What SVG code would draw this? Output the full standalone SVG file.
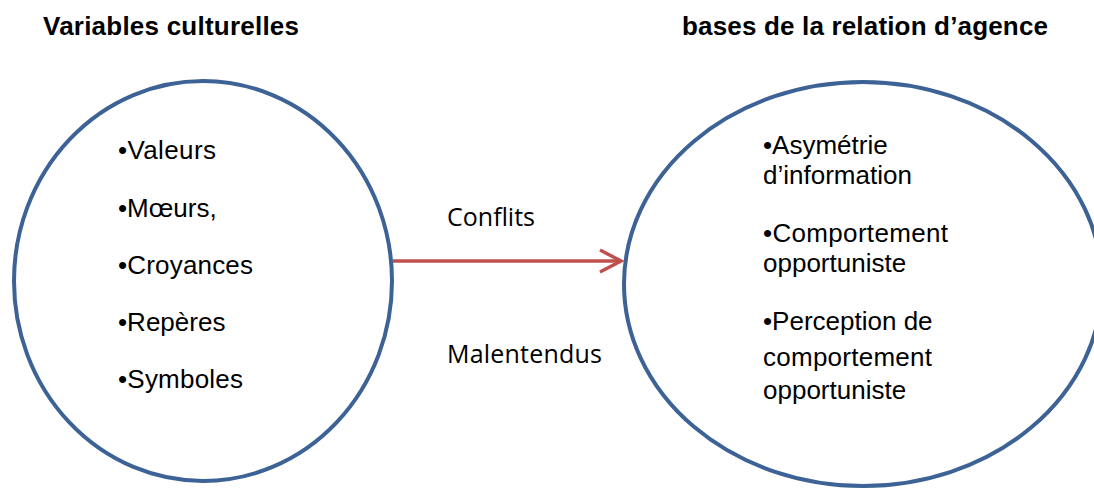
<svg xmlns="http://www.w3.org/2000/svg" width="1094" height="488" viewBox="0 0 1094 488">
<style>
.node{fill:#fff;stroke:#3C6296;stroke-width:4}
.t{font-family:"Liberation Sans",Arial,sans-serif;font-size:26px;fill:#000}
.h{font-family:"Liberation Sans",Arial,sans-serif;font-size:26px;font-weight:bold;fill:#000}
.m{font-family:"Open Sans","Noto Sans",sans-serif;font-size:25px;fill:#000}
.c{fill:none;stroke:#C0504D;stroke-width:3.5}
</style>
<rect width="1094" height="488" fill="#fff"/>
<text class="h" x="43" y="35" textLength="256">Variables culturelles</text>
<text class="h" x="682" y="35" textLength="366">bases de la relation d’agence</text>
<g id="left">
<ellipse class="node" cx="203" cy="281" rx="189" ry="200"/>
<text class="t" x="118" y="159" textLength="98">•Valeurs</text>
<text class="t" x="118" y="217">•Mœurs,</text>
<text class="t" x="118" y="274" textLength="135">•Croyances</text>
<text class="t" x="118" y="331">•Repères</text>
<text class="t" x="118" y="388" textLength="125">•Symboles</text>
</g>
<g id="right">
<ellipse class="node" cx="863" cy="284" rx="239" ry="202"/>
<text class="t" x="763" y="154">•Asymétrie</text>
<text class="t" x="763" y="184">d’information</text>
<text class="t" x="763" y="242" textLength="185">•Comportement</text>
<text class="t" x="763" y="272">opportuniste</text>
<text class="t" x="763" y="330">•Perception de</text>
<text class="t" x="763" y="366" textLength="169">comportement</text>
<text class="t" x="763" y="399">opportuniste</text>
</g>
<g id="connectors">
<line class="c" x1="393" y1="261" x2="620" y2="261"/>
<path class="c" d="M600,250 L621,261 L600,272"/>
<text class="m" x="447" y="226" textLength="88">Conflits</text>
<text class="m" x="447" y="363" textLength="155">Malentendus</text>
</g>
</svg>
